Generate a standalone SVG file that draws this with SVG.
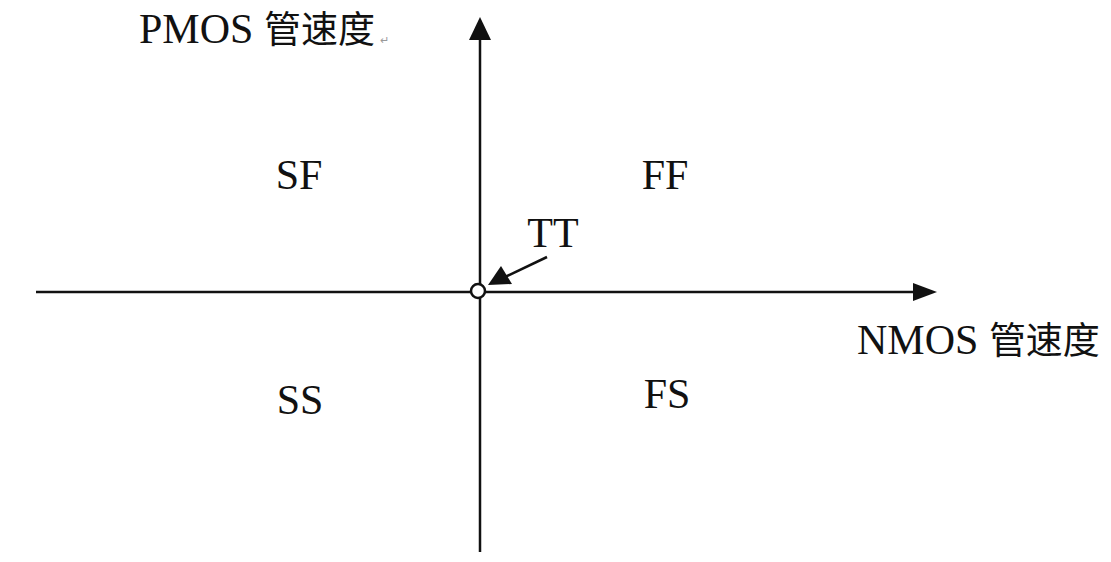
<svg xmlns="http://www.w3.org/2000/svg" width="1111" height="562" viewBox="0 0 1111 562">
<style>
.t{font-family:"Liberation Serif","Noto Sans CJK SC",serif;font-size:42px;fill:#111}
.c{font-family:"Noto Sans CJK SC",serif;font-size:37px}
.ax{stroke:#111;stroke-width:2.5;fill:none}
</style>
<rect width="1111" height="562" fill="#fff"/>
<g id="connectors">
<line class="ax" x1="36" y1="292" x2="915" y2="292"/>
<path d="M913,283 L937,292 L913,301 Z" fill="#111"/>
<line class="ax" x1="480" y1="552" x2="480" y2="36"/>
<path d="M469,40 L480,17 L491,40 Z" fill="#111"/>
<line class="ax" x1="547" y1="257" x2="505" y2="277"/>
<path d="M488,285 L501,266 L512,284 Z" fill="#111"/>
</g>
<g id="TT-point"><circle cx="478" cy="291" r="7" fill="#fff" stroke="#111" stroke-width="2.5"/></g>
<g id="label-pmos"><text class="t" x="139" y="43">PMOS <tspan class="c">管速度</tspan></text><text x="380" y="44" font-family="Liberation Sans,sans-serif" font-size="11" fill="#999">↵</text></g>
<g id="label-nmos"><text class="t" x="857" y="354">NMOS <tspan class="c">管速度</tspan></text></g>
<g id="SF"><text class="t" x="299" y="189" text-anchor="middle">SF</text></g>
<g id="FF"><text class="t" x="665" y="189" text-anchor="middle">FF</text></g>
<g id="SS"><text class="t" x="300" y="414" text-anchor="middle">SS</text></g>
<g id="FS"><text class="t" x="667" y="408" text-anchor="middle">FS</text></g>
<g id="TT"><text class="t" x="553" y="247" text-anchor="middle">TT</text></g>
</svg>
